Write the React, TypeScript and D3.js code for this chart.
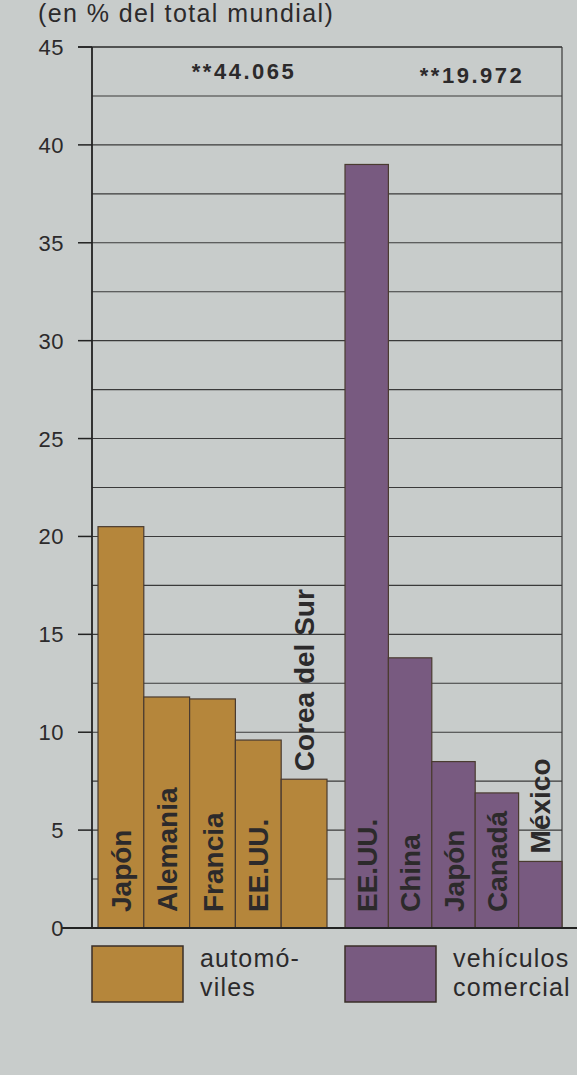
import * as d3 from 'd3'

// values (% of world total)
const autoCountries = ['Japón', 'Alemania', 'Francia', 'EE.UU.', 'Corea del Sur']
const autoValues = [20.5, 11.8, 11.7, 9.6, 7.6]
const comCountries = ['EE.UU.', 'China', 'Japón', 'Canadá', 'México']
const comValues = [39.0, 13.8, 8.5, 6.9, 3.4]
const yTicks = [0, 5, 10, 15, 20, 25, 30, 35, 40, 45]
const totals = ['**44.065', '**19.972']
const legendLabels = [['automó-', 'viles'], ['vehículos', 'comercial']]

const W = 577
const H = 1075
const FONT = '"Liberation Sans", Arial, Helvetica, sans-serif'
const AUTO_FILL = '#b5863b'
const COM_FILL = '#785a80'
const INK = '#2c2a2b'

export default function App() {
  const y = d3.scaleLinear().domain([0, 45]).range([928, 47])
  const xAuto = d3.scaleBand<string>().domain(autoCountries.map((_, i) => String(i))).range([98, 327])
  const xCom = d3.scaleBand<string>().domain(comCountries.map((_, i) => String(i))).range([345, 562])
  const axisX = 92
  const right = 562
  const gridVals = d3.range(2.5, 45, 2.5)

  // label goes inside the bar unless it does not fit, then sits above it
  const labelFits = (name: string, v: number) => name.length * 15 + 24 < y(0) - y(v)

  const drawGroup = (names: string[], values: number[], x: d3.ScaleBand<string>, fill: string) =>
    names.map((name, i) => {
      const x0 = x(String(i))!
      const bw = x.bandwidth()
      const top = y(values[i])
      const inside = labelFits(name, values[i])
      const ly = inside ? y(0) - 16 : top - 8
      const lx = x0 + bw / 2 + 10
      return (
        <g key={name + i}>
          <rect x={x0} y={top} width={bw} height={y(0) - top} fill={fill} stroke="#4a3b30" strokeWidth={1.2} />
          <text
            transform={`translate(${lx},${ly}) rotate(-90)`}
            fontFamily={FONT}
            fontWeight="bold"
            fontSize={28}
            fill={INK}
          >
            {name}
          </text>
        </g>
      )
    })

  return (
    <div style={{ position: 'absolute', left: 0, top: 0 }}>
      <svg width={W} height={H} style={{ display: 'block' }}>
        <rect width={W} height={H} fill="#c8cccb" />

        <text x={38} y={22} fontFamily={FONT} fontSize={25} letterSpacing={1.4} fill={INK}>
          (en % del total mundial)
        </text>

        {/* grid */}
        {gridVals.map(v => (
          <line key={v} x1={axisX} x2={right} y1={y(v)} y2={y(v)} stroke="#3a3a3a" strokeWidth={1.1} />
        ))}
        <line x1={78} x2={right} y1={y(45)} y2={y(45)} stroke="#2a2a2a" strokeWidth={1.5} />
        <line x1={right} x2={right} y1={y(45)} y2={y(0)} stroke="#3a3a3a" strokeWidth={1.2} />

        {/* bars */}
        {drawGroup(autoCountries, autoValues, xAuto, AUTO_FILL)}
        {drawGroup(comCountries, comValues, xCom, COM_FILL)}

        {/* y axis */}
        <line x1={axisX} x2={axisX} y1={y(45)} y2={y(0)} stroke="#222" strokeWidth={1.8} />
        {yTicks.map(t => (
          <g key={t}>
            <line x1={t === 0 ? 62 : 78} x2={t === 0 ? W : axisX} y1={y(t)} y2={y(t)} stroke="#222" strokeWidth={t === 0 ? 2 : 1.5} />
            <text x={64} y={y(t) + 8} textAnchor="end" fontFamily={FONT} fontSize={22} letterSpacing={0.5} fill={INK}>
              {t}
            </text>
          </g>
        ))}

        {/* totals */}
        <text x={244} y={79} textAnchor="middle" fontFamily={FONT} fontWeight="bold" fontSize={22} letterSpacing={2.5} fill={INK}>
          {totals[0]}
        </text>
        <text x={472} y={83} textAnchor="middle" fontFamily={FONT} fontWeight="bold" fontSize={22} letterSpacing={2.5} fill={INK}>
          {totals[1]}
        </text>

        {/* legend */}
        {[AUTO_FILL, COM_FILL].map((c, i) => {
          const lx = i === 0 ? 92 : 345
          return (
            <g key={c}>
              <rect x={lx} y={946} width={91} height={56} fill={c} stroke="#3a2e28" strokeWidth={1.5} />
              {legendLabels[i].map((s, j) => (
                <text key={s} x={lx + 108} y={967 + j * 29} fontFamily={FONT} fontSize={25} letterSpacing={1.2} fill={INK}>
                  {s}
                </text>
              ))}
            </g>
          )
        })}
      </svg>
    </div>
  )
}
